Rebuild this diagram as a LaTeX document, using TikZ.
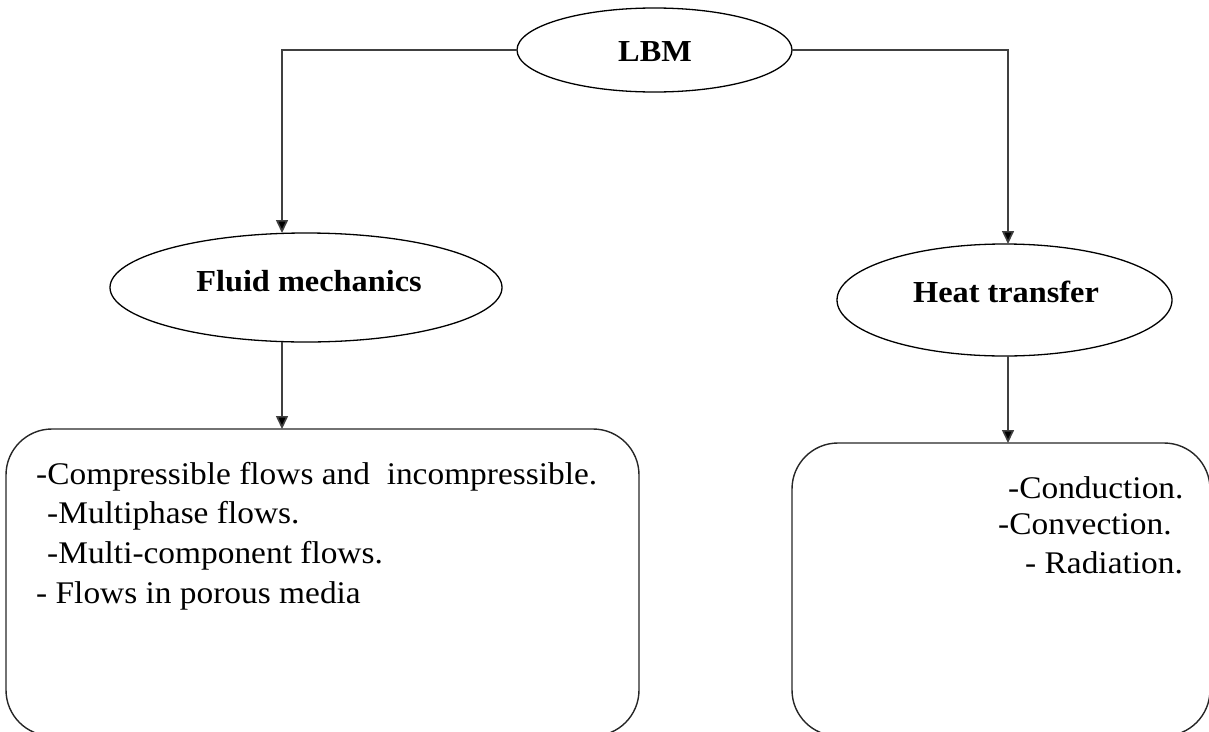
\documentclass[tikz,border=0pt]{standalone}
\usepackage{fontspec}
\setmainfont{Liberation Serif}[FakeStretch=1.06]
\usetikzlibrary{arrows.meta,shapes.geometric}
\tikzset{
  ell/.style={draw=black, line width=1.3pt, ellipse, inner sep=0pt, outer sep=0pt},
  bx/.style={draw=black!85, line width=1.4pt, rectangle, rounded corners=46pt, inner sep=0pt, outer sep=0pt},
  conn/.style={draw=black!75, line width=1.6pt, -{Triangle[length=13pt,width=12pt,fill=black]}},
  title/.style={font=\fontsize{30.5}{36}\selectfont\bfseries, inner sep=0pt, anchor=base},
  item/.style={font=\fontsize{31.5}{37}\selectfont, inner sep=0pt, anchor=base west}
}
\begin{document}
\begin{tikzpicture}[x=1pt,y=-1pt]
\useasboundingbox (0,0) rectangle (1209,731);
% ellipses
\node[ell, minimum width=275pt, minimum height=84pt] (lbm) at (654.5,50) {};
\node[title] (lbmt) at (655,61) {LBM};
\node[ell, minimum width=392pt, minimum height=109pt] (fluid) at (306,287.5) {};
\node[title] (fluidt) at (309,291) {Fluid mechanics};
\node[ell, minimum width=335pt, minimum height=112pt] (heat) at (1004.5,300) {};
\node[title] (heatt) at (1006,302) {Heat transfer};
% boxes
\node[bx, minimum width=633pt, minimum height=307pt] (fbox) at (322.5,582.5) {};
\node[bx, minimum width=418pt, minimum height=293pt] (hbox) at (1001,589.5) {};
% box texts
\node[item] (f1) at (36,484) {-Compressible flows and\ \ incompressible.};
\node[item] (f2) at (47,523) {-Multiphase flows.};
\node[item] (f3) at (47,563) {-Multi-component flows.};
\node[item] (f4) at (36,603) {- Flows in porous media};
\node[item] (h1) at (1008,498) {-Conduction.};
\node[item] (h2) at (998,534) {-Convection.};
\node[item] (h3) at (1025,573) {- Radiation.};
% connectors
\coordinate (lx) at (282,49);
\coordinate (rx) at (1008,49);
\draw[conn] (lbm.west) -| (fluid.north -| lx);
\draw[conn] (lbm.east) -| (heat.north -| rx);
\draw[conn] (fluid.south -| lx) -- (fbox.north -| lx);
\draw[conn] (heat.south -| rx) -- (hbox.north -| rx);
\end{tikzpicture}
\end{document}
